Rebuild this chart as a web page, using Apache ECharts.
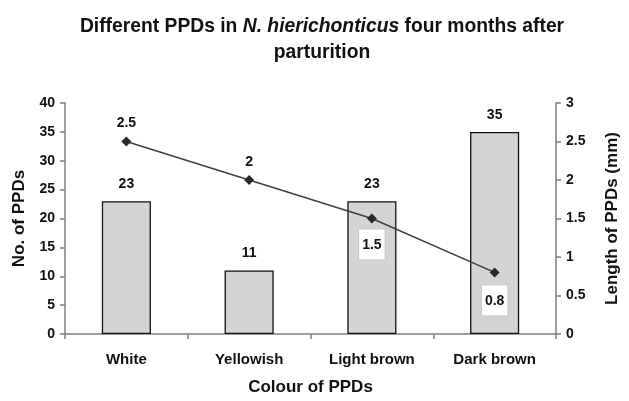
<!DOCTYPE html>
<html>
<head>
<meta charset="utf-8">
<script src="https://cdn.jsdelivr.net/npm/echarts@6/dist/echarts.min.js"></script>
<style>html,body{margin:0;padding:0;background:#fff}#c{width:629px;height:401px}</style>
</head>
<body>
<div id="c"></div>
<script>
var categories = ['White', 'Yellowish', 'Light brown', 'Dark brown'];
var countValues = [23, 11, 23, 35];
var lengthValues = [2.5, 2, 1.5, 0.8];
var leftTicks = [0, 5, 10, 15, 20, 25, 30, 35, 40];
var rightTicks = [0, 0.5, 1, 1.5, 2, 2.5, 3];

var FONT = '"Liberation Sans", Arial, sans-serif';
var chart = echarts.init(document.getElementById('c'), null, {renderer: 'canvas'});

var boxLabel = {
  show: true, position: 'bottom', distance: 7,
  backgroundColor: '#fff', borderColor: '#c8c8c8', borderWidth: 1,
  padding: [9, 3, 7, 3]
};

var lineData = lengthValues.map(function (v, i) {
  if (i >= 2) {
    return {value: v, label: Object.assign({}, boxLabel, {distance: i === 3 ? 8 : 6})};
  }
  return {value: v};
});

chart.setOption({
  animation: false,
  backgroundColor: '#fff',
  textStyle: {fontFamily: FONT},
  title: {
    text: '{b|Different PPDs in }{i|N. hierichonticus}{b| four months after}\n{b|parturition}',
    left: 317, top: 9, textAlign: 'center',
    textStyle: {
      fontFamily: FONT, fontSize: 19.3, fontWeight: 'bold', color: '#111', lineHeight: 26,
      rich: {
        b: {fontFamily: FONT, fontSize: 19.3, fontWeight: 'bold', color: '#111', lineHeight: 26},
        i: {fontFamily: FONT, fontSize: 19.3, fontWeight: 'bold', fontStyle: 'italic', color: '#111', lineHeight: 26}
      }
    }
  },
  grid: {left: 65, right: 61, top: 103, bottom: 62, containLabel: false},
  xAxis: {
    type: 'category', data: categories,
    name: 'Colour of PPDs', nameLocation: 'middle', nameGap: 45,
    nameTextStyle: {fontFamily: FONT, fontSize: 17, fontWeight: 'bold', color: '#111'},
    axisLine: {lineStyle: {color: '#808080', width: 1.5}},
    axisTick: {show: true, alignWithLabel: false, length: 5, lineStyle: {color: '#808080', width: 1.5}},
    axisLabel: {fontFamily: FONT, fontSize: 15, fontWeight: 'bold', color: '#111', margin: 18}
  },
  yAxis: [{
    type: 'value', min: 0, max: 40, interval: 5,
    name: 'No. of PPDs', nameLocation: 'middle', nameGap: 37, nameRotate: 90,
    nameTextStyle: {fontFamily: FONT, fontSize: 17, fontWeight: 'bold', color: '#111'},
    axisLine: {show: true, lineStyle: {color: '#808080', width: 1.5}},
    axisTick: {show: true, length: 5, lineStyle: {color: '#808080', width: 1.5}},
    splitLine: {show: false},
    axisLabel: {fontFamily: FONT, fontSize: 14, fontWeight: 'bold', color: '#111', margin: 10,
      formatter: function (v) { return leftTicks.indexOf(v) >= 0 ? String(v) : ''; }}
  }, {
    type: 'value', min: 0, max: 3, interval: 0.5, position: 'right',
    name: 'Length of PPDs (mm)', nameLocation: 'middle', nameGap: 48, nameRotate: 90,
    nameTextStyle: {fontFamily: FONT, fontSize: 17, fontWeight: 'bold', color: '#111'},
    axisLine: {show: true, lineStyle: {color: '#808080', width: 1.5}},
    axisTick: {show: true, length: 5, lineStyle: {color: '#808080', width: 1.5}},
    splitLine: {show: false},
    axisLabel: {fontFamily: FONT, fontSize: 14, fontWeight: 'bold', color: '#111', margin: 10,
      formatter: function (v) { return rightTicks.indexOf(v) >= 0 ? String(v) : ''; }}
  }],
  series: [{
    type: 'bar', data: countValues, yAxisIndex: 0, barWidth: '40%',
    itemStyle: {color: '#d4d4d4', borderColor: '#111', borderWidth: 1.3},
    label: {show: true, position: 'top', distance: 10, fontFamily: FONT, fontSize: 14, fontWeight: 'bold', color: '#111'}
  }, {
    type: 'line', data: lineData, yAxisIndex: 1,
    symbol: 'diamond', symbolSize: 10,
    lineStyle: {color: '#404040', width: 1.5},
    itemStyle: {color: '#2a2a2a'},
    label: {show: true, position: 'top', distance: 6, fontFamily: FONT, fontSize: 14, fontWeight: 'bold', color: '#111'}
  }]
});
</script>
</body>
</html>
